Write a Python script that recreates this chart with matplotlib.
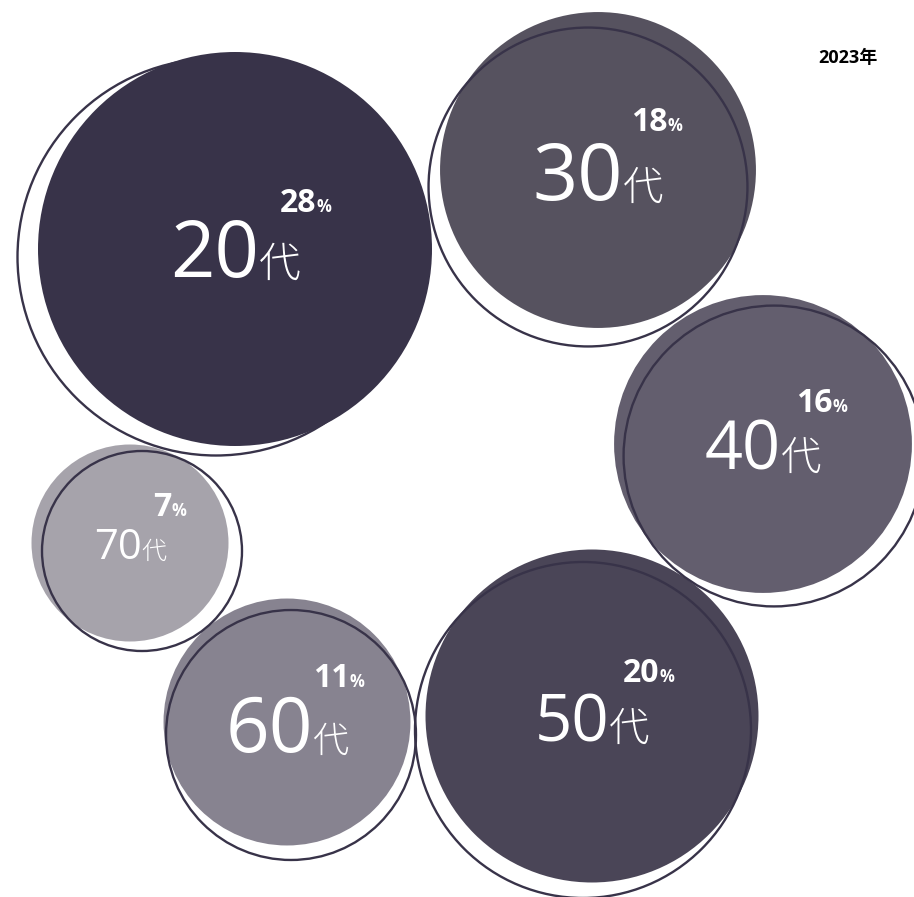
import matplotlib
matplotlib.use("Agg")
import matplotlib.pyplot as plt
from matplotlib.patches import Circle
import numpy as np

# 年代別の構成比 (%)
ages = ["20", "30", "40", "50", "60", "70"]
shares = [28, 18, 16, 20, 11, 7]
year_label = "2023年"

# 配置 (ピクセル座標、上が0)
centers_x = [235, 598, 763, 592, 287, 130]
centers_y = [249, 170, 444, 716, 722, 543]
ring_dx = [-19, -10, 11, -9, 4, 12]
ring_dy = [8, 17, 12, 14, 13, 8]
label_dy = [28, 30, 26, 25, 30, 16]
pct_dx = [96, 84, 84, 82, 77, 56]
pct_dy = [-37, -39, -32, -34, -35, -27]
num_size = [56, 57, 48, 47, 55, 30]
dai_size = [30, 29, 29, 29, 26, 18]

fills = ["#383349", "#56525f", "#635e6e", "#4a4557", "#878390", "#a6a3ab"]
ring_color = "#383349"

W, H = 914, 897
fig = plt.figure(figsize=(W / 100, H / 100), dpi=100)
ax = fig.add_axes([0, 0, 1, 1])
ax.set_xlim(0, W)
ax.set_ylim(H, 0)
ax.axis("off")

# 面積が構成比に比例するように半径を決める
k = 197 / np.sqrt(28)
radii = [k * np.sqrt(s) for s in shares]

for i in range(len(ages)):
    cx, cy, r = centers_x[i], centers_y[i], radii[i]
    ax.add_patch(Circle((cx, cy), r, facecolor=fills[i], edgecolor="none", zorder=1))
    ax.add_patch(Circle((cx + ring_dx[i], cy + ring_dy[i]), r + 1.5, facecolor="none",
                        edgecolor=ring_color, linewidth=1.7, zorder=2))

fig.canvas.draw()
renderer = fig.canvas.get_renderer()


def pair_text(x, y, big, small, big_kw, small_kw, align):
    t1 = ax.text(0, y, big, ha="left", va="baseline", color="white", zorder=3, **big_kw)
    t2 = ax.text(0, y, small, ha="left", va="baseline", color="white", zorder=3, **small_kw)
    w1 = t1.get_window_extent(renderer).width
    w2 = t2.get_window_extent(renderer).width
    left = x - (w1 + w2) / 2 if align == "center" else x - (w1 + w2)
    t1.set_x(left)
    t2.set_x(left + w1)


for i in range(len(ages)):
    cx, cy = centers_x[i], centers_y[i]
    pair_text(cx, cy + label_dy[i], ages[i], "代",
              dict(fontsize=num_size[i], family="Open Sans"),
              dict(fontsize=dai_size[i], family="Noto Sans CJK JP", weight="light"),
              "center")
    pair_text(cx + pct_dx[i], cy + pct_dy[i], str(shares[i]), "%",
              dict(fontsize=23, family="Open Sans", weight="bold"),
              dict(fontsize=12, family="Open Sans", weight="bold"),
              "right")

ax.text(878, 63, year_label, ha="right", va="baseline", fontsize=13, weight="bold",
        family=["Open Sans", "Noto Sans CJK JP"], color="black")

fig.savefig("out.png", dpi=100, facecolor="white")
